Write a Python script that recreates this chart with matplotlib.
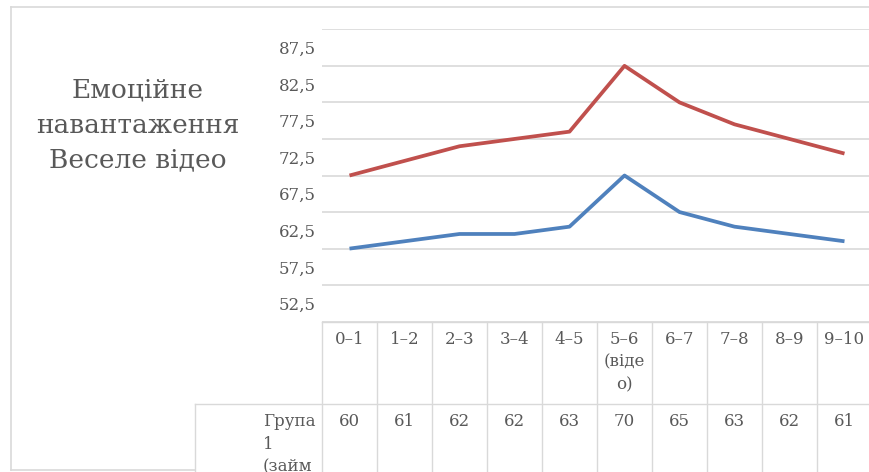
import numpy as np
import matplotlib
matplotlib.use("Agg")
import matplotlib.pyplot as plt
from matplotlib.lines import Line2D

plt.rcParams['font.family'] = ['DejaVu Serif']

categories = ["0–1", "1–2", "2–3", "3–4", "4–5", "5–6\n(віде\nо)",
              "6–7", "7–8", "8–9", "9–10"]
group1 = [60, 61, 62, 62, 63, 70, 65, 63, 62, 61]
group2 = [70, 72, 74, 75, 76, 85, 80, 77, 75, 73]
group1_label = "Група\n1\n(займ"
title = "Емоційне\nнавантаження\nВеселе відео"

text_col = "#595959"
grid_col = "#d9d9d9"

W, H = 869, 472
fig = plt.figure(figsize=(W / 100, H / 100), dpi=100)

# plot area: 10 columns of 55 px, starting at x=322; y from 50 (y=321.7) to 90 (y=29.3)
px_left, col_w = 322, 55
y_bot, y_top = 321.7, 29.3
ax = fig.add_axes([px_left / W, (H - y_bot) / H, col_w * len(categories) / W, (y_bot - y_top) / H])
x = np.arange(len(categories))

ax.plot(x, group2, color="#C0504D", lw=2.7, solid_joinstyle="round", solid_capstyle="butt", zorder=3)
ax.plot(x, group1, color="#4F81BD", lw=2.7, solid_joinstyle="round", solid_capstyle="butt", zorder=3)

ax.set_xlim(-0.5, len(categories) - 0.5)
ax.set_ylim(50, 90)
ax.set_yticks(np.arange(52.5, 90, 5))
ax.set_yticklabels([f"{v:.1f}".replace(".", ",") for v in np.arange(52.5, 90, 5)])
ax.set_yticks(np.arange(50, 91, 5), minor=True)
ax.yaxis.grid(True, which="minor", color=grid_col, lw=1.2)
ax.tick_params(axis="y", which="both", length=0, pad=4.5, labelsize=12, labelcolor=text_col)
ax.set_xticks([])
for s in ax.spines.values():
    s.set_visible(False)

# data table under the plot
row_h = 82
lbl_left = 195
tab_h = H - y_bot
tax = fig.add_axes([lbl_left / W, 0, (px_left + col_w * len(categories) - lbl_left) / W, tab_h / H])
x0 = -0.5 - (px_left - lbl_left) / col_w
tax.set_xlim(x0, len(categories) - 0.5)
tax.set_ylim(-tab_h / row_h, 0)
tax.axis("off")

lk = dict(color=grid_col, lw=1.0, clip_on=False)
tax.plot([-0.5, len(categories) - 0.5], [0, 0], **lk)
tax.plot([x0, len(categories) - 0.5], [-1, -1], **lk)
for b in np.arange(-0.5, len(categories), 1):
    tax.plot([b, b], [-2, 0], **lk)
tax.plot([x0, x0], [-2, -1], **lk)

for i, (c, v) in enumerate(zip(categories, group1)):
    tax.text(i, -0.11, c, ha="center", va="top", fontsize=12, color=text_col, linespacing=1.45)
    tax.text(i, -1.11, str(v), ha="center", va="top", fontsize=12, color=text_col)
tax.text(x0 + (263 - lbl_left) / col_w, -1.11, group1_label, ha="left", va="top",
         fontsize=12, color=text_col, linespacing=1.45)

# chart frame
fr = dict(color=grid_col, lw=1.2, transform=fig.transFigure)
fig.add_artist(Line2D([11 / W, 11 / W], [1 - 7 / H, 1 - 470 / H], **fr))
fig.add_artist(Line2D([11 / W, 1], [1 - 7 / H, 1 - 7 / H], **fr))
fig.add_artist(Line2D([11 / W, lbl_left / W], [1 - 470 / H, 1 - 470 / H], **fr))

fig.text(138 / W, 1 - 125 / H, title, ha="center", va="center", fontsize=19,
         color=text_col, linespacing=1.5)

fig.savefig("out.png", dpi=100)
